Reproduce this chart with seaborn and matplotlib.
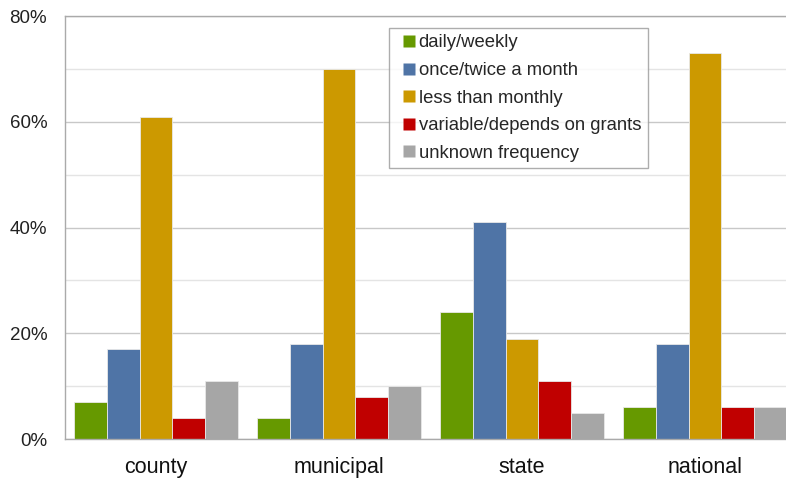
import matplotlib
matplotlib.use("Agg")
import matplotlib.pyplot as plt
from matplotlib.lines import Line2D
import seaborn as sns
import pandas as pd
from matplotlib.ticker import MultipleLocator, FuncFormatter

categories = ["county", "municipal", "state", "national"]
series = ["daily/weekly", "once/twice a month", "less than monthly",
          "variable/depends on grants", "unknown frequency"]
daily_weekly = [7, 4, 24, 6]
once_twice_month = [17, 18, 41, 18]
less_than_monthly = [61, 70, 19, 73]
variable_grants = [4, 8, 11, 6]
unknown_frequency = [11, 10, 5, 6]
colors = ["#669900", "#4f74a6", "#cc9900", "#c00000", "#a6a6a6"]

values = [daily_weekly, once_twice_month, less_than_monthly, variable_grants, unknown_frequency]
rows = []
for s, vals in zip(series, values):
    for c, v in zip(categories, vals):
        rows.append({"category": c, "series": s, "value": v})
df = pd.DataFrame(rows)

sns.set_theme(style="white")
plt.rcParams["font.family"] = ["Liberation Sans", "DejaVu Sans"]

fig = plt.figure(figsize=(7.86, 4.78), dpi=100)
ax = fig.add_axes([64.5 / 786, 39 / 478, 732 / 786, 422.7 / 478])

sns.barplot(data=df, x="category", y="value", hue="series", order=categories,
            hue_order=series, palette=colors, width=0.9, ax=ax,
            edgecolor="#e8e8e8", linewidth=0.6, saturation=1, legend=False)

ax.set_ylim(0, 80)
ax.set_xlim(-0.5, 3.5)
ax.yaxis.set_major_locator(MultipleLocator(20))
ax.yaxis.set_minor_locator(MultipleLocator(10))
ax.yaxis.set_major_formatter(FuncFormatter(lambda v, p: f"{int(v)}%"))
ax.grid(axis="y", which="major", color="#c8c8c8", linewidth=1)
ax.grid(axis="y", which="minor", color="#e4e4e4", linewidth=1)
ax.set_axisbelow(True)
ax.set_xlabel("")
ax.set_ylabel("")
ax.tick_params(axis="y", labelsize=13.5, colors="#222222", length=0, pad=12.5)
ax.tick_params(axis="x", labelsize=15.5, colors="#111111", length=0, pad=13)
for side in ["left", "top", "bottom"]:
    ax.spines[side].set_color("#aaaaaa")
    ax.spines[side].set_linewidth(1)
ax.spines["right"].set_visible(False)

handles = [Line2D([], [], marker="s", linestyle="", markersize=8.6,
                  markerfacecolor=c, markeredgecolor="none") for c in colors]
leg = ax.legend(handles, series, loc="upper left",
                bbox_to_anchor=((389 - 64.5) / 732, (439 - 28) / 422.7),
                frameon=True, fancybox=False, fontsize=13.3, handlelength=1.45,
                handletextpad=-0.2, labelspacing=0.57,
                borderpad=0.35, borderaxespad=0)
leg.get_frame().set_edgecolor("#999999")
leg.get_frame().set_linewidth(1)

fig.savefig("out.png", dpi=100)
